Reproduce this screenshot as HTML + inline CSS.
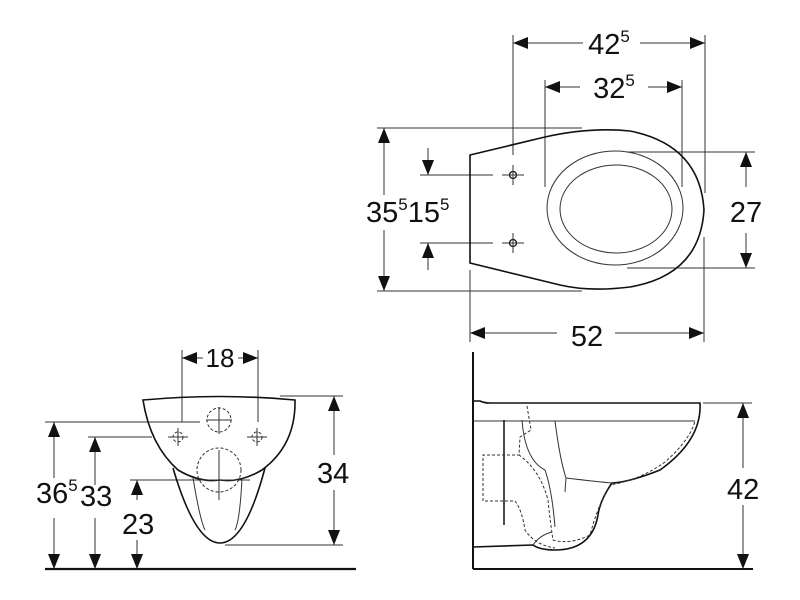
<!DOCTYPE html>
<html><head><meta charset="utf-8"><style>html,body{margin:0;padding:0;background:#fff}svg{display:block}text{font-family:"Liberation Sans",sans-serif;fill:#111}</style></head><body>
<svg width="800" height="600" viewBox="0 0 800 600" xmlns="http://www.w3.org/2000/svg">
<defs>
<marker id="a" viewBox="0 0 15 12" refX="15" refY="6" markerWidth="15" markerHeight="12" markerUnits="userSpaceOnUse" orient="auto-start-reverse"><path d="M0,0L15,6L0,12z" fill="#111"/></marker>
</defs>
<g stroke="#333" stroke-width="1" fill="none">
<!-- TOP VIEW -->
<line x1="513" y1="35" x2="513" y2="155"/><line x1="705" y1="35" x2="705" y2="193"/>
<line x1="545" y1="80" x2="545" y2="187"/><line x1="682" y1="80" x2="682" y2="187"/>
<line x1="513" y1="43" x2="583" y2="43" marker-start="url(#a)"/><line x1="640" y1="43" x2="705" y2="43" marker-end="url(#a)"/>
<line x1="545" y1="87" x2="580" y2="87" marker-start="url(#a)"/><line x1="648" y1="87" x2="682" y2="87" marker-end="url(#a)"/>
<line x1="377" y1="128" x2="582" y2="128"/><line x1="377" y1="291" x2="582" y2="291"/>
<line x1="384" y1="128" x2="384" y2="195" marker-start="url(#a)"/><line x1="384" y1="230" x2="384" y2="291" marker-end="url(#a)"/>
<line x1="420" y1="175" x2="493" y2="175"/><line x1="420" y1="243" x2="493" y2="243"/>
<line x1="428" y1="148" x2="428" y2="175" marker-end="url(#a)"/><line x1="428" y1="270" x2="428" y2="243" marker-end="url(#a)"/>
<line x1="627" y1="152" x2="755" y2="152"/><line x1="627" y1="268" x2="755" y2="268"/>
<line x1="746" y1="152" x2="746" y2="187" marker-start="url(#a)"/><line x1="746" y1="233" x2="746" y2="268" marker-end="url(#a)"/>
<line x1="470" y1="270" x2="470" y2="342"/><line x1="704" y1="237" x2="704" y2="342"/>
<line x1="470" y1="333" x2="557" y2="333" marker-start="url(#a)"/><line x1="615" y1="333" x2="704" y2="333" marker-end="url(#a)"/>
<path d="M470,155 L545,137 Q590,127 630,131 Q700,145 704,210 Q700,275 630,287 Q590,292 560,285 L470,263 Z" stroke="#111" stroke-width="1.6"/>
<ellipse cx="615" cy="208" rx="68" ry="57"/><ellipse cx="616" cy="209" rx="56" ry="44"/>
<circle cx="513" cy="175" r="3.5" stroke="#111" stroke-width="1.3"/><line x1="502" y1="175" x2="524" y2="175"/><line x1="513" y1="165" x2="513" y2="185"/>
<circle cx="513" cy="243" r="3.5" stroke="#111" stroke-width="1.3"/><line x1="502" y1="243" x2="524" y2="243"/><line x1="513" y1="233" x2="513" y2="253"/>
<!-- FRONT VIEW -->
<line x1="182" y1="350" x2="182" y2="422"/><line x1="258" y1="350" x2="258" y2="422"/>
<line x1="182" y1="358" x2="203" y2="358" marker-start="url(#a)"/><line x1="238" y1="358" x2="258" y2="358" marker-end="url(#a)"/>
<line x1="45" y1="422" x2="200" y2="422"/><line x1="88" y1="437" x2="152" y2="437"/><line x1="130" y1="480" x2="250" y2="480"/>
<line x1="280" y1="396" x2="343" y2="396"/><line x1="225" y1="545" x2="343" y2="545"/>
<line x1="54" y1="422" x2="54" y2="478" marker-start="url(#a)"/><line x1="54" y1="518" x2="54" y2="569" marker-end="url(#a)"/>
<line x1="95" y1="437" x2="95" y2="485" marker-start="url(#a)"/><line x1="95" y1="518" x2="95" y2="569" marker-end="url(#a)"/>
<line x1="137" y1="480" x2="137" y2="500" marker-start="url(#a)"/><line x1="137" y1="540" x2="137" y2="569" marker-end="url(#a)"/>
<line x1="334" y1="396" x2="334" y2="455" marker-start="url(#a)"/><line x1="334" y1="490" x2="334" y2="545" marker-end="url(#a)"/>
<path d="M143,400 Q220,393 295,400 Q296,445 262,470 Q240,483 220,480 Q200,483 178,470 Q150,445 143,400 Z" stroke="#111" stroke-width="1.6"/>
<path d="M173,468 Q195,543 220,543 Q245,543 265,468" stroke="#111" stroke-width="1.6"/>
<path d="M193,478 Q200,520 205,530 M242,478 Q240,520 235,530" />
<line x1="45" y1="569" x2="356" y2="569" stroke="#111" stroke-width="2.2"/>
<g stroke-dasharray="3,2"><circle cx="219" cy="420" r="12"/><circle cx="219" cy="470" r="22"/><circle cx="178" cy="437" r="5"/><circle cx="257" cy="437" r="5"/></g>
<line x1="219" y1="407" x2="219" y2="434"/><line x1="206" y1="420" x2="232" y2="420"/>
<line x1="219" y1="450" x2="219" y2="500"/><line x1="196" y1="480" x2="242" y2="480"/>
<line x1="168" y1="437" x2="188" y2="437"/><line x1="178" y1="428" x2="178" y2="446"/>
<line x1="247" y1="437" x2="267" y2="437"/><line x1="257" y1="428" x2="257" y2="446"/>
<!-- SIDE VIEW -->
<line x1="473" y1="352" x2="473" y2="569" stroke="#111" stroke-width="2"/>
<line x1="473" y1="569" x2="753" y2="569" stroke="#111" stroke-width="2"/>
<path d="M473,401 L480,401 Q484,403 490,403 L700,403 Q702,440 660,470 Q630,482 612,483 Q600,500 598,515 Q592,550 555,550 Q540,550 533,545 L473,547" stroke="#111" stroke-width="1.6"/>
<line x1="473" y1="421" x2="695" y2="421"/>
<line x1="504" y1="420" x2="504" y2="525" stroke="#111" stroke-width="1.5"/>
<path d="M555,421 Q560,460 566,478 Q600,482 612,483 M566,478 L565,492 M522,420 Q525,460 545,470 Q552,490 555,527 M533,545 Q540,535 552,532"/>
<g stroke-dasharray="3,2"><path d="M527,406 L531,430 L520,437 L519,455 Q540,470 548,500 Q550,520 553,540 Q570,545 590,535 Q598,505 610,485 Q640,480 665,462 Q690,440 695,421"/><path d="M520,455 L483,455 L483,501 L515,501 Q522,510 525,530 Q535,545 555,548"/></g>
<line x1="703" y1="403" x2="752" y2="403"/>
<line x1="743" y1="403" x2="743" y2="468" marker-start="url(#a)"/><line x1="743" y1="505" x2="743" y2="569" marker-end="url(#a)"/>
</g>
<g font-size="29">
<text x="609" y="54" text-anchor="middle">42<tspan font-size="17" dy="-12">5</tspan></text>
<text x="614" y="98" text-anchor="middle">32<tspan font-size="17" dy="-12">5</tspan></text>
<text x="366" y="222">35<tspan font-size="17" dy="-12">5</tspan><tspan dy="12">15</tspan><tspan font-size="17" dy="-12">5</tspan></text>
<text x="746" y="222" text-anchor="middle">27</text>
<text x="587" y="346" text-anchor="middle">52</text>
<text x="220" y="367" text-anchor="middle" font-size="26">18</text>
<text x="36" y="503">36<tspan font-size="17" dy="-12">5</tspan></text>
<text x="80" y="506">33</text>
<text x="122" y="534">23</text>
<text x="317" y="483">34</text>
<text x="727" y="499">42</text>
</g>
</svg>
</body></html>
